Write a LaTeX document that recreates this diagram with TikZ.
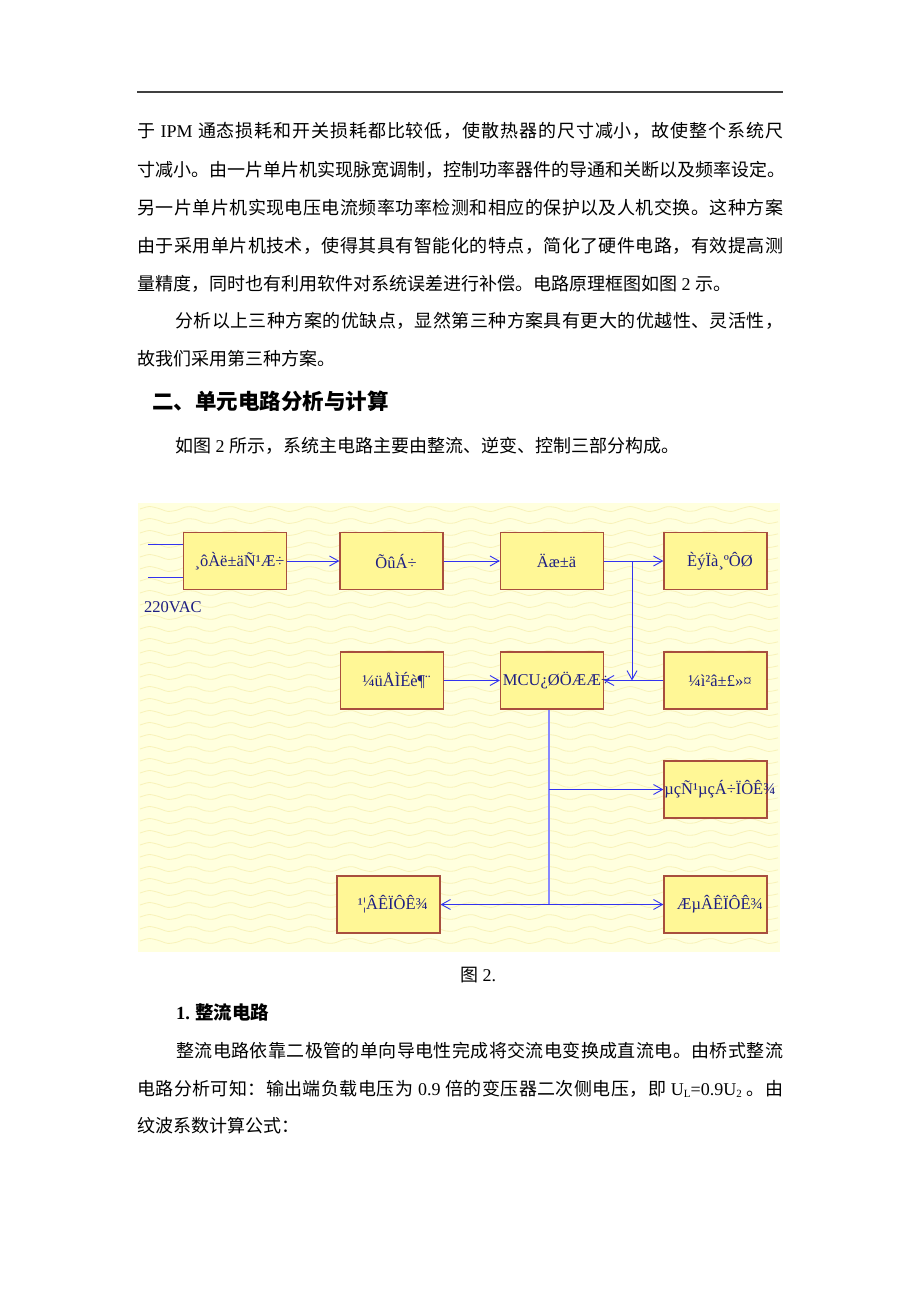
\documentclass[tikz,border=0pt]{standalone}
\usepackage{fontspec}
\setmainfont{Liberation Serif}
\newfontfamily\cjk{Noto Sans CJK SC}
\usetikzlibrary{arrows.meta, positioning, calc}
\definecolor{pagefill}{RGB}{255,255,222}
\definecolor{wavecol}{RGB}{248,242,185}
\definecolor{blkfill}{RGB}{255,247,150}
\definecolor{blkline}{RGB}{168,78,62}
\definecolor{linkcol}{RGB}{50,50,240}
\definecolor{trunkcol}{RGB}{136,136,255}
\definecolor{blktext}{RGB}{30,30,130}
\newcommand\inbox[1]{\makebox[0pt]{\hspace*{9pt}#1}}
\newcommand\lat[1]{\hspace{4.5pt}{\rmfamily #1}\hspace{4.5pt}}
% spread a line of characters over a given width
\def\sprstop{\sprstop}
\def\sprstopx{\sprstop}
\def\sprA#1{\def\sprtmp{#1}\ifx\sprtmp\sprstopx\unskip\else{#1}\hskip0pt plus1fil\relax\expandafter\sprA\fi}
\newcommand\fullline[2][646pt]{\hbox to #1{\sprA#2\sprstop}}

\begin{document}
\begin{tikzpicture}[
    x=1pt, y=-1pt,
    txt/.style={anchor=west, inner sep=0pt, font=\cjk\fontsize{18}{22}\selectfont},
    head/.style={anchor=west, inner sep=0pt, font=\cjk\bfseries\fontsize{21.5}{26}\selectfont},
    blk/.style={draw=blkline, line width=1.2pt, fill=blkfill, minimum width=103pt, minimum height=57pt,
      inner sep=0pt, text=blktext, font=\fontsize{16.5}{19}\selectfont},
    link/.style={draw=linkcol, line width=0.9pt, -{Straight Barb[length=9pt,width=10pt]}},
    wire/.style={draw=linkcol, line width=0.9pt},
    trunk/.style={draw=trunkcol, line width=2pt},
    wave/.style={draw=wavecol, line width=0.8pt}
  ]
  \fill[white] (0,0) rectangle (920,1302);
  \useasboundingbox (0,0) rectangle (920,1302);
  % header rule
  \draw[line width=1.4pt, black!75] (137,92) -- (783,92);
  % text above the figure
  \node[txt] (p1) at (137,131) {\fullline{于{\lat{IPM}}通态损耗和开关损耗都比较低，使散热器的尺寸减小，故使整个系统尺}};
  \node[txt] (p2) at (137,170) {\fullline{寸减小。由一片单片机实现脉宽调制，控制功率器件的导通和关断以及频率设定。}};
  \node[txt] (p3) at (137,208) {\fullline{另一片单片机实现电压电流频率功率检测和相应的保护以及人机交换。这种方案}};
  \node[txt] (p4) at (137,246) {\fullline{由于采用单片机技术，使得其具有智能化的特点，简化了硬件电路，有效提高测}};
  \node[txt] (p5) at (137,284) {量精度，同时也有利用软件对系统误差进行补偿。电路原理框图如图\lat{2}示。};
  \node[txt] (p6) at (175,321) {\fullline[608pt]{分析以上三种方案的优缺点，显然第三种方案具有更大的优越性、灵活性，}};
  \node[txt] (p7) at (137,359) {故我们采用第三种方案。};
  \node[head] (h1) at (152,401) {二、单元电路分析与计算};
  \node[txt] (p8) at (175,446) {如图\lat{2}所示，系统主电路主要由整流、逆变、控制三部分构成。};

  % figure background
  \fill[pagefill] (138,503) rectangle (780,952);
  \foreach \yy in {509,521,...,946}
    \draw[wave] plot[domain=140:778, samples=70, smooth] (\x,{\yy+2.5*sin(9*\x)});

  % blocks
  \node[blk] (tfm)  at (235,561)     {\inbox{¸ôÀë±äÑ¹Æ÷}};
  \node[blk] (rect) at (391.5,561)   {\inbox{ÕûÁ÷}};
  \node[blk] (inv)  at (552,561)     {\inbox{Äæ±ä}};
  \node[blk] (load) at (715.5,561)   {\inbox{ÈýÏà¸ºÔØ}};
  \node[blk] (key)  at (392,680.5)   {\inbox{¼üÅÌÉè¶¨}};
  \node[blk] (mcu)  at (552,680.5)   {\inbox{MCU¿ØÖÆÆ÷}};
  \node[blk] (prot) at (715.5,680.5) {\inbox{¼ì²â±£»¤}};
  \node[blk] (vdsp) at (715.5,789.5) {\inbox{µçÑ¹µçÁ÷ÏÔÊ¾}};
  \node[blk] (pdsp) at (388.5,904.5) {\inbox{¹¦ÂÊÏÔÊ¾}};
  \node[blk] (fdsp) at (715.5,904.5) {\inbox{ÆµÂÊÏÔÊ¾}};
  \node[anchor=west, inner sep=0pt, text=blktext, font=\fontsize{16.5}{19}\selectfont] (vac) at (144,607) {220VAC};

  % mains input
  \coordinate (in1) at (148,544);
  \coordinate (in2) at (148,577);
  \draw[wire] (in1) -- (in1 -| tfm.west);
  \draw[wire] (in2) -- (in2 -| tfm.west);
  % power path
  \draw[link] (tfm) -- (rect);
  \draw[link] (rect) -- (inv);
  \draw[link] (inv) -- (load);
  \coordinate (tap) at (632,561);
  \draw[link] (tap) -- (tap |- prot.west);
  % control
  \draw[link] (key) -- (mcu);
  \draw[link] (prot) -- (mcu);
  \coordinate (bus) at (549,904.5);
  \draw[trunk] (mcu.south -| bus) -- (bus);
  \draw[link] (bus |- vdsp) -- (vdsp.west);
  \draw[link] (bus) -- (pdsp.east);
  \draw[link] (bus) -- (fdsp.west);

  % text below the figure
  \node[txt] (cap) at (460,975) {图\lat{2.}};
  \node[txt, font=\cjk\bfseries\fontsize{18.5}{22}\selectfont] (h2) at (176,1012) {{\rmfamily 1.}\hspace{5pt}整流电路};
  \node[txt] (q1) at (176,1051) {\fullline[607pt]{整流电路依靠二极管的单向导电性完成将交流电变换成直流电。由桥式整流}};
  \node[txt] (q2) at (137,1089) {\fullline{电路分析可知：输出端负载电压为{\lat{0.9}}倍的变压器二次侧电压，即{\lat{U\raisebox{-1.5pt}{\fontsize{11}{12}\selectfont L}=0.9U\raisebox{-1.5pt}{\fontsize{11}{12}\selectfont 2}}}。由}};
  \node[txt] (q3) at (137,1126) {纹波系数计算公式：};
\end{tikzpicture}
\end{document}
